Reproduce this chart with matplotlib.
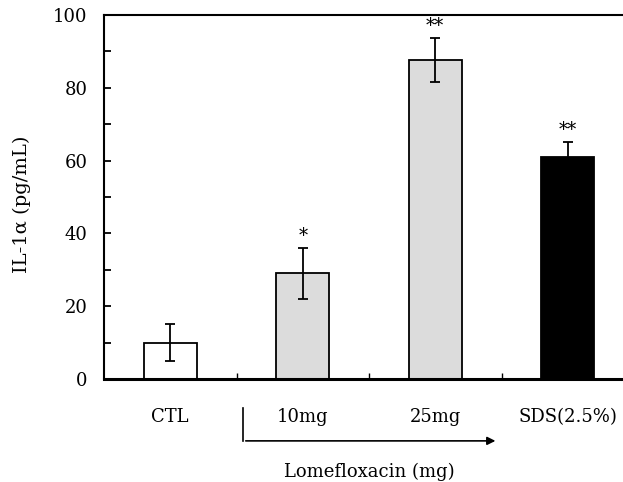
import matplotlib
matplotlib.use("Agg")
import matplotlib.pyplot as plt
from matplotlib import transforms

categories = ["CTL", "10mg", "25mg", "SDS(2.5%)"]
values = [10, 29, 87.6, 61]
errors = [5, 7, 6, 4]
stars = ["", "*", "**", "**"]
colors = ["white", "#dcdcdc", "#dcdcdc", "black"]
yticks = [0, 20, 40, 60, 80, 100]

plt.rcParams['font.family'] = ['DejaVu Serif']

fig = plt.figure(figsize=(6.23, 4.82), dpi=100)
ax = fig.add_axes([104/623, 1-379/482, 530/623, 364/482])

x = list(range(len(categories)))
ax.bar(x, values, width=0.4, color=colors, edgecolor="black", linewidth=1.3, zorder=2)
ax.errorbar(x, values, yerr=errors, fmt="none", ecolor="black", elinewidth=1.3,
            capsize=3.5, capthick=1.3, zorder=3)
for xi, v, e, s in zip(x, values, errors, stars):
    if s:
        ax.text(xi, v + e + 0.8, s, ha="center", va="bottom", fontsize=13)

ax.set_xlim(-0.5, 3.5)
ax.set_ylim(0, 100)
ax.set_yticks(yticks)
ax.set_yticklabels([str(t) for t in yticks], fontsize=13)
ax.set_yticks([10, 30, 50, 70, 90], minor=True)
ax.tick_params(axis="y", which="both", direction="in", length=5, width=1.3, pad=12)

ax.set_xticks([0.5, 1.5, 2.5])
ax.set_xticklabels([])
ax.tick_params(axis="x", which="major", direction="in", length=4, width=1)
blend = transforms.blended_transform_factory(ax.transData, ax.transAxes)
for xi, c in zip(x, categories):
    ax.text(xi, -0.104, c, transform=blend, ha="center", va="center", fontsize=13)

ax.spines["right"].set_visible(False)
ax.spines["left"].set_linewidth(1.5)
ax.spines["top"].set_linewidth(1.5)
ax.spines["bottom"].set_linewidth(2.2)

ax.set_ylabel("IL-1α (pg/mL)", fontsize=14)
ax.yaxis.set_label_coords(-0.138, 0.48)

ax.plot([0.549, 0.549], [-0.080, -0.170], color="black", lw=1.2, transform=blend, clip_on=False)
ax.annotate("", xy=(2.475, -0.170), xytext=(0.549, -0.170), xycoords=blend, textcoords=blend,
            arrowprops=dict(arrowstyle="-|>", color="black", lw=1.2, mutation_scale=12))
ax.text(1.5, -0.255, "Lomefloxacin (mg)", transform=blend, ha="center", va="center", fontsize=13)

fig.savefig("out.png", dpi=100)
